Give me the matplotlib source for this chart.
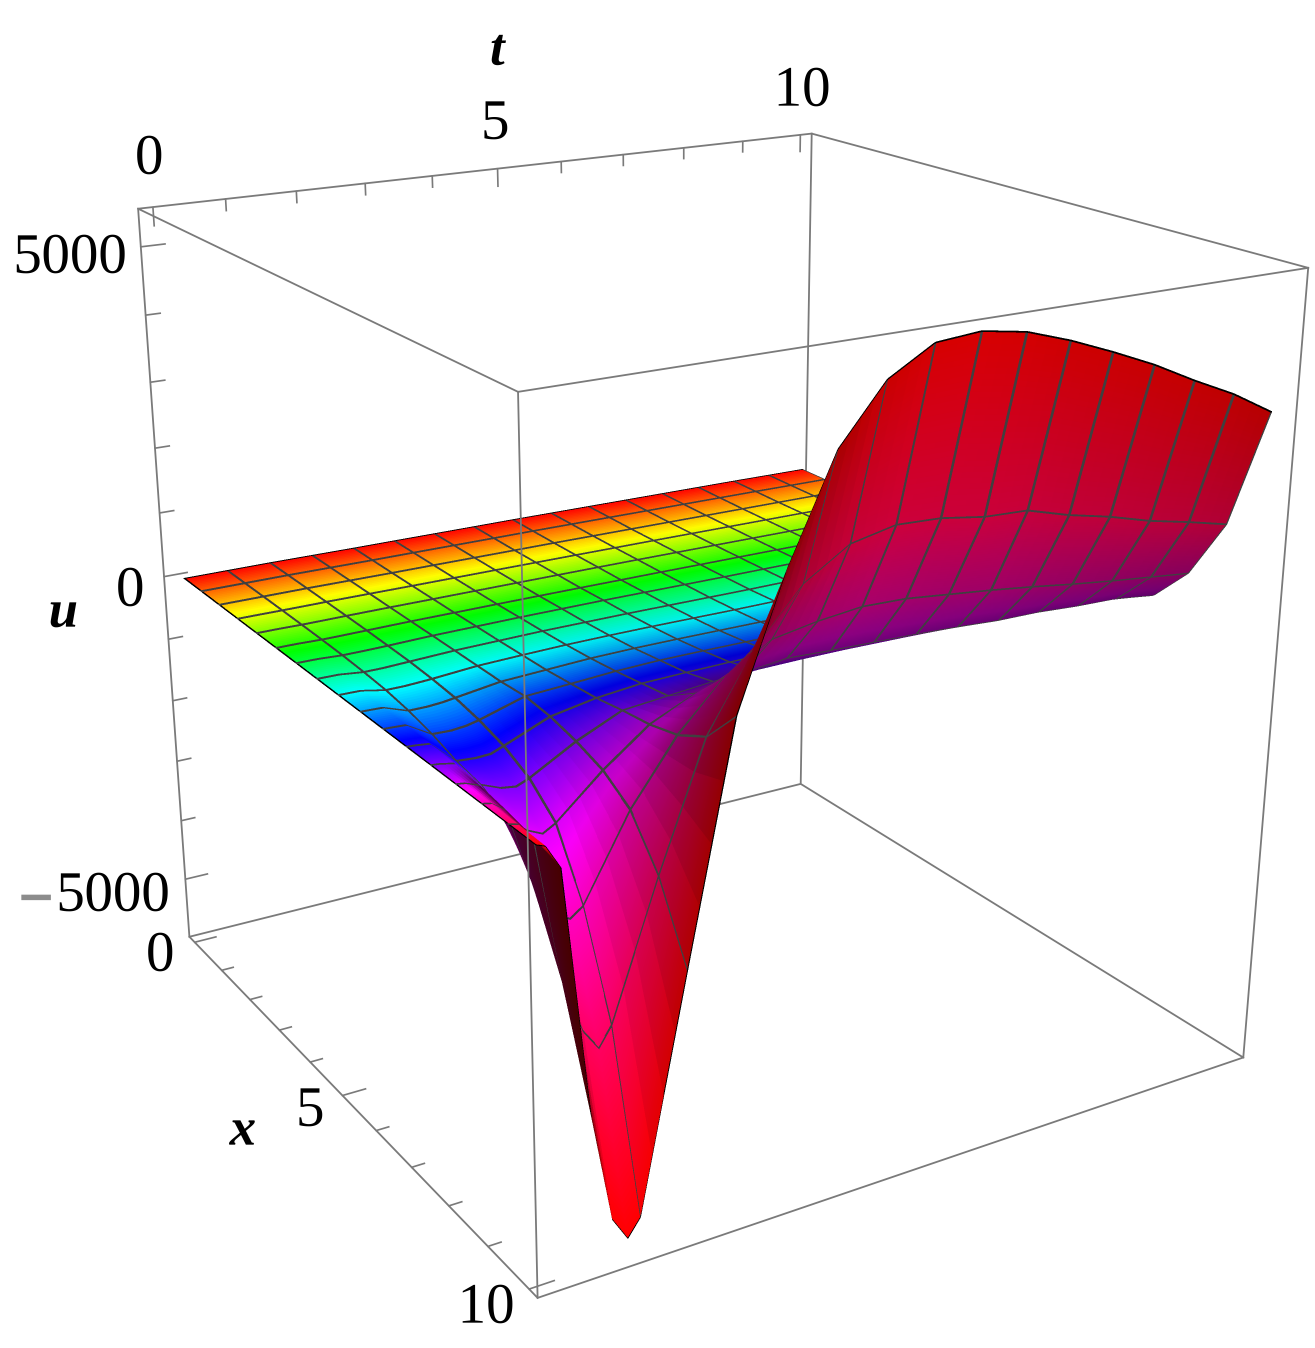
import numpy as np
import matplotlib
matplotlib.use('Agg')
import matplotlib.pyplot as plt
from matplotlib.colors import hsv_to_rgb

W, H = 1315, 1348
SS = 3

# grid, extra t columns at 0.12, 0.3, 0.88, 1.08 for the sharp trough
x_vals = [0, 0.625, 1.25, 1.875, 2.5, 3.125, 3.75, 4.375, 5, 5.625, 6.25, 6.875, 7.5, 8.125, 8.75, 9.375, 10]
t_vals = [0, 0.12, 0.3, 0.625, 0.88, 1.08, 1.25, 1.875, 2.5, 3.125, 3.75, 4.375, 5, 5.625, 6.25, 6.875, 7.5, 8.125, 8.75, 9.375, 10]
mesh_t = [0, 0.625, 1.25, 1.875, 2.5, 3.125, 3.75, 4.375, 5, 5.625, 6.25, 6.875, 7.5, 8.125, 8.75, 9.375, 10]
u_vals = [
    [0, 0, 0, 0, 0, 0, 0, -5, -10, -12, -15, -18, -20, -25, -30, -35, -40, -45, -50, -58, -65],
    [0, 0, 0, 0, 0, 0, 0, -5, -10, -12, -15, -18, -20, -25, -30, -35, -40, -45, -50, -58, -65],
    [0, 0, 0, 0, 0, 0, 0, -5, -10, -12, -15, -18, -20, -25, -30, -35, -40, -45, -50, -55, -60],
    [0, 0, 0, -2, -2, -2, -1, -4, -8, -10, -12, -15, -18, -22, -25, -30, -35, -40, -45, -50, -55],
    [0, 0, 0, -5, -5, -4, -3, -3, -5, -6, -8, -10, -12, -15, -20, -25, -30, -35, -40, -45, -50],
    [0, 0, -1, -10, -10, -8, -7, -2, -2, -2, -3, -5, -8, -10, -15, -18, -22, -28, -32, -38, -42],
    [0, 0, -2, -20, -20, -18, -15, 0, 5, 10, 10, 10, 5, 0, -5, -8, -12, -15, -20, -25, -30],
    [0, -1, -3, -40, -40, -32, -25, 0, 10, 20, 20, 20, 15, 10, 5, 5, 0, -5, -8, -12, -15],
    [0, -2, -5, -70, -70, -60, -50, 0, 20, 35, 40, 40, 35, 30, 30, 25, 25, 20, 20, 15, 15],
    [0, -3, -10, -130, -130, -115, -90, 0, 30, 60, 70, 70, 65, 60, 55, 50, 45, 40, 35, 30, 30],
    [0, -5, -15, -220, -230, -210, -170, 25, 60, 100, 120, 120, 115, 110, 100, 95, 90, 80, 70, 65, 60],
    [0, -8, -30, -350, -370, -360, -290, -25, 90, 155, 170, 180, 185, 180, 170, 160, 150, 140, 125, 110, 100],
    [0, -12, -50, -420, -530, -560, -490, -130, 155, 210, 270, 300, 310, 310, 300, 290, 280, 260, 230, 200, 170],
    [0, -18, -90, -620, -850, -950, -850, -280, 200, 490, 620, 690, 660, 640, 620, 590, 550, 540, 500, 480, 400],
    [0, -25, -160, -1300, -1750, -1850, -1720, -560, 300, 950, 1310, 1420, 1490, 1470, 1400, 1330, 1250, 1160, 1080, 1010, 940],
    [0, -35, -250, -2300, -3050, -3350, -3080, -1190, 530, 1560, 2260, 2660, 2790, 2760, 2660, 2630, 2450, 2310, 2135, 2000, 1850],
    [0, -50, -375, -3830, -5400, -5750, -5500, -2204, 1050, 2800, 4170, 4930, 5290, 5340, 5240, 5040, 4800, 4540, 4235, 3955, 3610],
]
x_ticks = [0, 1, 2, 3, 4, 5, 6, 7, 8, 9, 10]
t_ticks = [0, 1, 2, 3, 4, 5, 6, 7, 8, 9, 10]
u_ticks = [-5000, -4000, -3000, -2000, -1000, 0, 1000, 2000, 3000, 4000, 5000]
box_x = [-0.2, 10.2]
box_t = [-0.2, 10.2]
box_u = [-6000, 5550]

x_vals = np.array(x_vals)
t_vals = np.array(t_vals)
U = np.array(u_vals, dtype=float)

# box corners on the picture, used to fit the camera
corners = {
    (0, 0, 1): (138, 208), (0, 1, 1): (812, 134), (1, 1, 1): (1308, 268), (1, 0, 1): (518, 392),
    (0, 0, 0): (190, 938), (0, 1, 0): (800, 783), (1, 1, 0): (1244, 1058), (1, 0, 0): (537, 1297),
}
rows = []
rhs = []
for (a, b, c), (px, py) in corners.items():
    p = [a, b, c, 1]
    rows.append(p + [0, 0, 0, 0] + [-px * v for v in p[:3]])
    rhs.append(px)
    rows.append([0, 0, 0, 0] + p + [-py * v for v in p[:3]])
    rhs.append(py)
sol = np.linalg.lstsq(np.array(rows, float), np.array(rhs, float), rcond=None)[0]
cam = np.append(sol, 1).reshape(3, 4)
scale = np.array([
    [1 / (box_x[1] - box_x[0]), 0, 0, -box_x[0] / (box_x[1] - box_x[0])],
    [0, 1 / (box_t[1] - box_t[0]), 0, -box_t[0] / (box_t[1] - box_t[0])],
    [0, 0, 1 / (box_u[1] - box_u[0]), -box_u[0] / (box_u[1] - box_u[0])],
    [0, 0, 0, 1],
])
cam = cam @ scale
if (cam[2] @ np.array([5, 5, 0, 1])) < 0:
    cam = -cam
M = np.vstack([cam[0], cam[1], [0, 0, 0, -1], cam[2]])


def to_px(x, t, u):
    q = cam @ np.stack([x, t, u, np.ones_like(x)])
    return q[0] / q[2], q[1] / q[2]


# lighting: normals in box units, lit differently front and back
ux, ut = np.gradient(U / (box_u[1] - box_u[0]), x_vals / 10, t_vals / 10)
norm = np.sqrt(ux ** 2 + ut ** 2 + 1)
nx, ny, nz = -ux / norm, -ut / norm, 1 / norm
view = 0.75 * nx - 0.6 * ny + 0.3 * nz
ramp = np.clip((t_vals - 1.25) / 0.6, 0, 1)[None, :]
lit_front = np.clip(1 + 1.6 * np.minimum(nx, 0) + 0.3 * np.minimum(ny, 0) * ramp, 0.5, 1)
lit_back = np.clip(0.42 + 0.5 * np.abs(nx) ** 4 - 0.3 * np.maximum(ny, 0), 0.28, 1)
shade = np.where(view > 0, lit_front, lit_back)
shade[:, :2] = 1
blue = np.where(view > 0, 1, 1 - 0.3 * np.abs(nx) ** 4)

# mesh lines are thin dark strips in the surface so the depth sort hides them properly
TT, XX = np.meshgrid(t_vals, x_vals)
px, py = to_px(XX.ravel(), TT.ravel(), U.ravel())
px, py = px.reshape(U.shape), py.reshape(U.shape)
step_x = np.hypot(np.diff(px, axis=0), np.diff(py, axis=0)) / np.diff(x_vals)[:, None]
step_t = np.hypot(np.diff(px, axis=1), np.diff(py, axis=1)) / np.diff(t_vals)[None, :]
speed_x = np.zeros(U.shape)
speed_x[0] = step_x[0]
speed_x[-1] = step_x[-1]
speed_x[1:-1] = np.maximum(step_x[:-1], step_x[1:])
speed_t = np.zeros(U.shape)
speed_t[:, 0] = step_t[:, 0]
speed_t[:, -1] = step_t[:, -1]
speed_t[:, 1:-1] = np.maximum(step_t[:, :-1], step_t[:, 1:])

half_px = 1.35
base = 0.004
is_mesh_t = np.isin(t_vals, mesh_t)


def breaks(vals, marked, nsub):
    out = []
    for k in range(len(vals) - 1):
        a = vals[k] + (base if marked[k] else 0)
        b = vals[k + 1] - (base if marked[k + 1] else 0)
        out.extend(np.linspace(a, b, nsub[k] + 1))
    out = [vals[0]] + out + [vals[-1]]
    return np.unique(np.round(out, 6))


sub_x = [10] * 10 + [16, 24, 32, 32, 32, 32]
sub_t = [4] * 20
fine_x = breaks(x_vals, np.ones(len(x_vals), bool), sub_x)
fine_t = breaks(t_vals, is_mesh_t, sub_t)
X_f, T_f = np.meshgrid(fine_x, fine_t, indexing='ij')

# widen each strip so it covers the same number of pixels wherever it runs
for k, v in enumerate(t_vals):
    if is_mesh_t[k]:
        wid = half_px / np.maximum(np.interp(fine_x, x_vals, speed_t[:, k]), 1)
        wid = np.minimum(wid, 0.1)
        if k > 0:
            T_f[:, np.isclose(fine_t, v - base)] = (v - wid)[:, None]
        if k < len(t_vals) - 1:
            T_f[:, np.isclose(fine_t, v + base)] = (v + wid)[:, None]
for k, v in enumerate(x_vals):
    wid = half_px / np.maximum(np.interp(fine_t, t_vals, speed_x[k, :]), 1)
    wid = np.minimum(wid, 0.1)
    if k > 0:
        X_f[np.isclose(fine_x, v - base), :] = v - wid
    if k < len(x_vals) - 1:
        X_f[np.isclose(fine_x, v + base), :] = v + wid


def resample(f):
    ri = np.interp(X_f, x_vals, np.arange(len(x_vals)))
    ci = np.interp(T_f, t_vals, np.arange(len(t_vals)))
    r0 = np.clip(np.floor(ri).astype(int), 0, f.shape[0] - 2)
    c0 = np.clip(np.floor(ci).astype(int), 0, f.shape[1] - 2)
    a = ri - r0
    b = ci - c0
    return ((1 - a) * (1 - b) * f[r0, c0] + a * (1 - b) * f[r0 + 1, c0]
            + (1 - a) * b * f[r0, c0 + 1] + a * b * f[r0 + 1, c0 + 1])


def cell_mid(f):
    g = resample(f)
    return (g[:-1, :-1] + g[1:, :-1] + g[:-1, 1:] + g[1:, 1:]) / 4


fine_u = resample(U)
s_mid = cell_mid(shade)
b_mid = cell_mid(blue)
x_mid = (fine_x[:-1] + fine_x[1:]) / 2
t_mid = (fine_t[:-1] + fine_t[1:]) / 2
hsv = np.ones(s_mid.shape + (3,))
hsv[..., 0] = (x_mid[:, None] / 10) % 1.0
hsv[..., 2] = s_mid
rgb = hsv_to_rgb(hsv)
rgb[..., 2] *= b_mid
line_col = np.array([0.25, 0.25, 0.25])
for k, v in enumerate(t_vals):
    if is_mesh_t[k]:
        rgb[:, np.abs(t_mid - v) < base * 1.01, :] = 0 if k == 0 else line_col
for k, v in enumerate(x_vals):
    rgb[np.abs(x_mid - v) < base * 1.01, :, :] = 0 if k in (0, len(x_vals) - 1) else line_col
rgba = np.dstack([rgb, np.ones(s_mid.shape)])

fig = plt.figure(figsize=(W / 100, H / 100), dpi=100 * SS)
ax = fig.add_axes([0, 0, 1, 1], projection='3d')
ax.set_axis_off()
ax.set_proj_type('ortho')
ax.computed_zorder = False
ax.get_proj = lambda: M
ax.apply_aspect = lambda position=None: None

ax.plot_surface(X_f, T_f, fine_u, facecolors=rgba, rstride=1, cstride=1, shade=False,
                linewidth=0, antialiased=False, zorder=2)

box_col = '#7a7a7a'
x0, x1 = box_x
t0, t1 = box_t
u0, u1 = box_u
back = [((x0, t0, u1), (x0, t1, u1)), ((x0, t1, u1), (x1, t1, u1)), ((x0, t1, u1), (x0, t1, u0)),
        ((x0, t0, u1), (x0, t0, u0)), ((x0, t0, u0), (x0, t1, u0)), ((x0, t1, u0), (x1, t1, u0))]
front = [((x0, t0, u1), (x1, t0, u1)), ((x1, t0, u1), (x1, t1, u1)), ((x1, t1, u1), (x1, t1, u0)),
         ((x1, t1, u0), (x1, t0, u0)), ((x1, t0, u0), (x1, t0, u1)), ((x0, t0, u0), (x1, t0, u0))]
for p, q in back:
    ax.plot([p[0], q[0]], [p[1], q[1]], [p[2], q[2]], color=box_col, lw=1.3, zorder=1)
for p, q in front:
    ax.plot([p[0], q[0]], [p[1], q[1]], [p[2], q[2]], color=box_col, lw=1.3, zorder=3)

# ticks
for v in t_ticks:
    n = 270 if v % 5 == 0 else 170
    ax.plot([x0, x0], [v, v], [u1, u1 - n], color=box_col, lw=1.2, zorder=3)
for v in x_ticks:
    n = 0.32 if v % 5 == 0 else 0.17
    ax.plot([v, v], [t0, t0 + n], [u0, u0], color=box_col, lw=1.2, zorder=3)
for v in u_ticks:
    n = 0.33 if v % 5000 == 0 else 0.2
    ax.plot([x0, x0], [t0, t0 + n], [v, v], color=box_col, lw=1.2, zorder=3)

ax.viewLim.intervalx = (0, W)
ax.viewLim.intervaly = (H, 0)

serif = ['Liberation Serif', 'DejaVu Serif']


def label(s, px, py, size=41, family=serif, **kw):
    fig.text(px / W, 1 - py / H, s, ha='center', va='center', fontsize=size, family=family, **kw)


label('0', 149, 160)
label('5', 495, 125)
label('10', 802, 92)
label('5000', 70, 259)
label('0', 130, 592)
label('5000', 113, 897)
label('\u2212', 36, 899, size=34, family=['DejaVu Sans'], color='#8c8c8c', fontweight='bold')
label('0', 160, 957)
label('5', 310, 1112)
label('10', 486, 1309)
label('t', 497, 52, size=38, style='italic', fontweight='bold')
label('u', 63, 614, size=38, style='italic', fontweight='bold')
label('x', 243, 1132, size=38, style='italic', fontweight='bold')

# polygons are drawn aliased without edges (no seams), then averaged down to size
fig.canvas.draw()
big = np.asarray(fig.canvas.buffer_rgba())[:H * SS, :W * SS, :3].astype(float)
small = big.reshape(H, SS, W, SS, 3).mean(axis=(1, 3)) / 255
plt.imsave('out.png', small)
